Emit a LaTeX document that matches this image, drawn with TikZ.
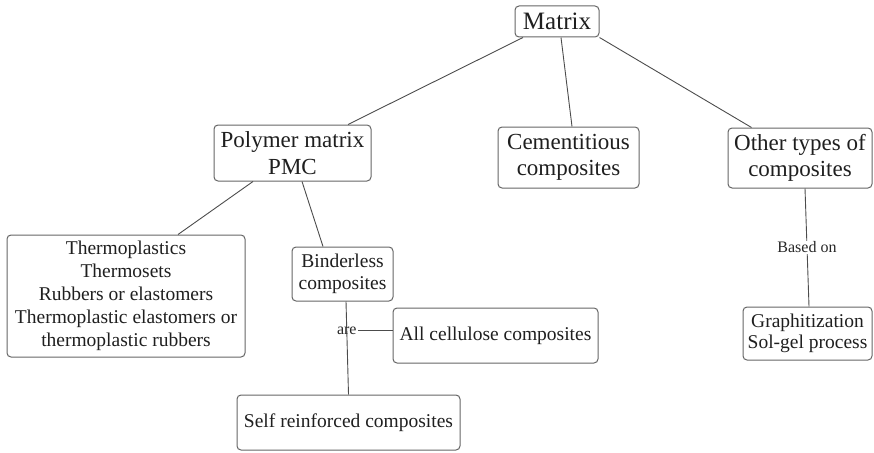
\documentclass[tikz,border=0pt]{standalone}
\usepackage{fontspec}
\setmainfont{Liberation Serif}
\usetikzlibrary{
  positioning,
}
\tikzset{
  box/.style={draw=black!60, rounded corners=4pt, line width=1pt, fill=white,
    align=center, inner sep=0pt, text=black!88},
  link/.style={draw=black!70, line width=0.9pt},
}

\begin{document}
\begin{tikzpicture}[
      x=1pt, y=-1pt,
      every edge/.style={link},
      big/.style={box, font=\fontsize{23}{26.5}\selectfont},
      small/.style={box, font=\fontsize{19.5}{23}\selectfont},
      tag/.style={font=\fontsize{16}{18}\selectfont, inner sep=1pt, text=black!85},
    ]
      \useasboundingbox (0,0) rectangle (874,452);
      \node [box, minimum width=84pt, minimum height=31pt, font=\fontsize{25}{29}\selectfont] (matrix) at (557,21.5) {Matrix};
      \node [big, minimum width=157pt, minimum height=56pt] (polymer) at (292.5,153) {Polymer matrix\\PMC};
      \node [big, minimum width=141pt, minimum height=61pt] (cement) at (568.5,157.5) {Cementitious\\composites};
      \node [big, minimum width=144pt, minimum height=60pt] (other) at (800,158) {Other types of\\composites};
      \node [small, minimum width=238pt, minimum height=122pt] (thermo) at (126,296) {Thermoplastics\\Thermosets\\Rubbers or elastomers\\Thermoplastic elastomers or\\thermoplastic rubbers};
      \node [small, minimum width=101pt, minimum height=54pt, font=\fontsize{19.5}{22}\selectfont] (binder) at (342.5,274) {Binderless\\composites};
      \node [small, minimum width=205pt, minimum height=55pt] (cellulose) at (495.5,335.5) {All cellulose composites};
      \node [small, minimum width=223pt, minimum height=55pt] (selfrein) at (348.5,422.5) {Self reinforced composites};
      \node [small, minimum width=129pt, minimum height=53pt, font=\fontsize{19.5}{21}\selectfont] (graphit) at (807.5,333.5) {Graphitization\\Sol-gel process};
      \path ([xshift=-34pt]matrix.south) edge ([xshift=55.5pt]polymer.north)
            ([xshift=4pt]matrix.south) edge ([xshift=3.5pt]cement.north)
            (matrix.south east) edge ([xshift=24pt]other.north west)
            ([xshift=-39.5pt]polymer.south) edge ([xshift=52pt]thermo.north)
            ([xshift=9.5pt]polymer.south) edge ([xshift=-19.5pt]binder.north)
            ([xshift=3.5pt]binder.south) edge node [tag, pos=0.31] (are) {are} (selfrein.north)
            ([xshift=5pt]other.south) edge node [tag, fill=white] {Based on} ([xshift=1.5pt]graphit.north);
      \path (are) edge (are -| cellulose.west);
    \end{tikzpicture}
\end{document}
